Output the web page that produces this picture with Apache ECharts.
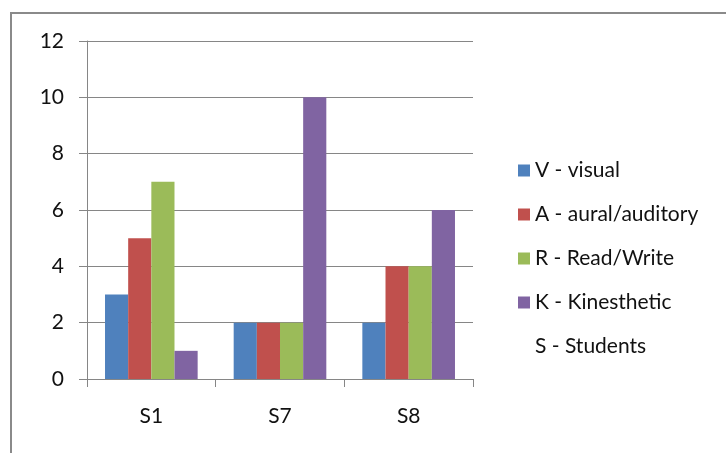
<!DOCTYPE html>
<html>
<head>
<meta charset="utf-8">
<script src="https://cdn.jsdelivr.net/npm/echarts@6/dist/echarts.min.js"></script>
<style>
  html, body { margin: 0; padding: 0; background: #fff; }
  #chart { width: 726px; height: 453px; }
</style>
</head>
<body>
<div id="chart"></div>
<script>
// Learning-style scores per student (VARK)
const students = ['S1', 'S7', 'S8'];
const visual = [3, 2, 2];
const aural = [5, 2, 4];
const readWrite = [7, 2, 4];
const kinesthetic = [1, 10, 6];
const yTicks = [0, 2, 4, 6, 8, 10, 12];

const seriesNames = ['V - visual', 'A - aural/auditory', 'R - Read/Write', 'K - Kinesthetic'];
const seriesColors = ['#4F81BD', '#C0504D', '#9BBB59', '#8064A2'];
const seriesValues = [visual, aural, readWrite, kinesthetic];

const FONT = 'Lato';
const TEXT_COLOR = '#111';
const chart = echarts.init(document.getElementById('chart'));

const barSeries = seriesNames.map((name, i) => ({
  name: name,
  type: 'bar',
  data: seriesValues[i],
  barGap: '0%',
  barCategoryGap: '28%',
  itemStyle: { color: seriesColors[i] },
  emphasis: { disabled: true }
}));

// Legend-only entry explaining the category labels (no marks, no bar slot)
barSeries.push({
  name: 'S - Students',
  type: 'line',
  data: [],
  symbol: 'none',
  lineStyle: { opacity: 0 }
});

chart.setOption({
  animation: false,
  backgroundColor: '#fff',
  graphic: [{
    type: 'rect',
    shape: { x: 11, y: 13, width: 800, height: 500 },
    style: { fill: 'none', stroke: '#8a8a8a', lineWidth: 2 },
    silent: true
  }],
  grid: { left: 87, right: 253, top: 41, bottom: 74, containLabel: false },
  legend: {
    orient: 'vertical',
    left: 513,
    top: 154,
    itemWidth: 12,
    itemHeight: 12,
    itemGap: 21,
    selectedMode: false,
    textStyle: { fontFamily: FONT, fontSize: 21, color: TEXT_COLOR, padding: [0, 0, 0, 0], lineHeight: 23 },
    data: seriesNames.map(n => ({ name: n, icon: 'rect' })).concat([{ name: 'S - Students', icon: 'none' }])
  },
  xAxis: {
    type: 'category',
    data: students,
    axisLine: { show: true, lineStyle: { color: '#868686', width: 1 } },
    axisTick: { show: true, length: 8, alignWithLabel: false, lineStyle: { color: '#868686' } },
    axisLabel: { margin: 27, fontFamily: FONT, fontSize: 21, color: TEXT_COLOR }
  },
  yAxis: {
    type: 'value',
    min: yTicks[0],
    max: yTicks[yTicks.length - 1],
    interval: 2,
    axisLine: { show: true, lineStyle: { color: '#868686', width: 1 } },
    axisTick: { show: true, length: 8, lineStyle: { color: '#868686' } },
    splitLine: { show: true, lineStyle: { color: '#868686', width: 1 } },
    axisLabel: { margin: 23, fontFamily: FONT, fontSize: 21, color: TEXT_COLOR }
  },
  series: barSeries
});
</script>
</body>
</html>
